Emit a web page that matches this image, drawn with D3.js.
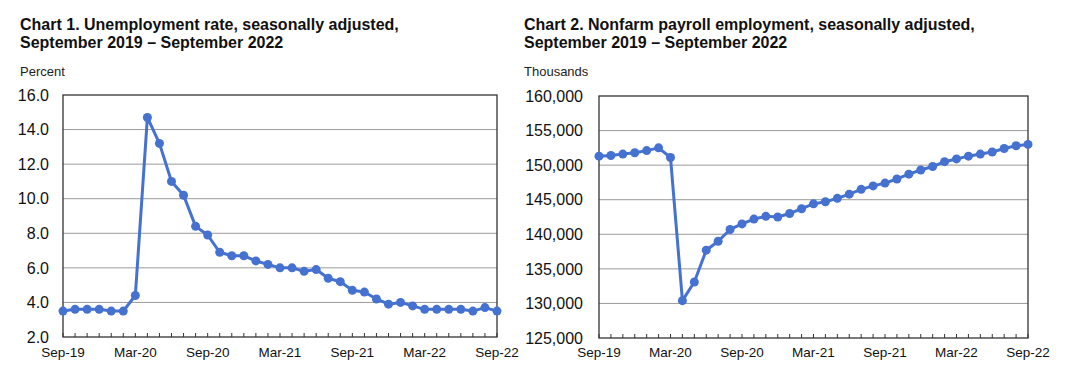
<!DOCTYPE html>
<html>
<head>
<meta charset="utf-8">
<script src="https://cdn.jsdelivr.net/npm/d3@7"></script>
<style>
  body { margin: 0; background: #fff; }
  svg { display: block; font-family: "Liberation Sans", Arial, sans-serif; }
</style>
</head>
<body>
<svg id="chart" width="1080" height="371"></svg>
<script>
// monthly values, Sep-19 .. Sep-22
var months = ["Sep-19","Oct-19","Nov-19","Dec-19","Jan-20","Feb-20","Mar-20","Apr-20","May-20","Jun-20","Jul-20","Aug-20",
  "Sep-20","Oct-20","Nov-20","Dec-20","Jan-21","Feb-21","Mar-21","Apr-21","May-21","Jun-21","Jul-21","Aug-21",
  "Sep-21","Oct-21","Nov-21","Dec-21","Jan-22","Feb-22","Mar-22","Apr-22","May-22","Jun-22","Jul-22","Aug-22","Sep-22"];

var unemployment = [3.5,3.6,3.6,3.6,3.5,3.5,4.4,14.7,13.2,11.0,10.2,8.4,
  7.9,6.9,6.7,6.7,6.4,6.2,6.0,6.0,5.8,5.9,5.4,5.2,
  4.7,4.6,4.2,3.9,4.0,3.8,3.6,3.6,3.6,3.6,3.5,3.7,3.5];

var payroll = [151300,151400,151600,151800,152100,152500,151100,130400,133100,137700,139000,140700,
  141500,142200,142600,142500,143000,143700,144400,144700,145200,145800,146500,147000,
  147400,148000,148700,149300,149800,150500,150900,151300,151600,151900,152400,152800,153000];

var xTickLabels = ["Sep-19","Mar-20","Sep-20","Mar-21","Sep-21","Mar-22","Sep-22"];

var unempTicks = [2,4,6,8,10,12,14,16];
var payrollTicks = [125000,130000,135000,140000,145000,150000,155000,160000];

var lineColor = "#4571d0";
var svg = d3.select("#chart");

function drawChart(opt) {
  var g = svg.append("g");

  g.append("text")
    .attr("x", opt.titleX).attr("y", 30)
    .attr("font-size", 16).attr("font-weight", "bold").attr("fill", "#111")
    .text(opt.title1);
  g.append("text")
    .attr("x", opt.titleX).attr("y", 47.5)
    .attr("font-size", 16).attr("font-weight", "bold").attr("fill", "#111")
    .text(opt.title2);
  g.append("text")
    .attr("x", opt.titleX).attr("y", 76)
    .attr("font-size", 13).attr("fill", "#222")
    .text(opt.unit);

  var x = d3.scaleLinear().domain([0, months.length - 1]).range([opt.left, opt.right]);
  var y = d3.scaleLinear().domain(opt.domain).range([opt.bottom, opt.top]);

  // gridlines
  g.selectAll(".grid")
    .data(opt.ticks.slice(1, -1))
    .enter().append("line")
    .attr("x1", opt.left).attr("x2", opt.right)
    .attr("y1", function(d) { return y(d); })
    .attr("y2", function(d) { return y(d); })
    .attr("stroke", "#9a9a9a").attr("stroke-width", 1);

  // y labels
  g.selectAll(".ylab")
    .data(opt.ticks)
    .enter().append("text")
    .attr("x", opt.left - opt.labelGap)
    .attr("y", function(d) { return y(d); })
    .attr("dy", "0.36em")
    .attr("text-anchor", "end")
    .attr("font-size", 16).attr("fill", "#111")
    .text(opt.fmt);

  // month ticks, inward
  g.selectAll(".mtick")
    .data(months)
    .enter().append("line")
    .attr("x1", function(d, i) { return x(i); })
    .attr("x2", function(d, i) { return x(i); })
    .attr("y1", opt.bottom).attr("y2", opt.bottom - 4)
    .attr("stroke", "#333").attr("stroke-width", 1);

  g.selectAll(".xlab")
    .data(xTickLabels)
    .enter().append("text")
    .attr("x", function(d) { return x(months.indexOf(d)); })
    .attr("y", 357)
    .attr("text-anchor", "middle")
    .attr("font-size", 13.5).attr("fill", "#111")
    .text(function(d) { return d; });

  // frame
  g.append("rect")
    .attr("x", opt.left).attr("y", opt.top)
    .attr("width", opt.right - opt.left).attr("height", opt.bottom - opt.top)
    .attr("fill", "none").attr("stroke", "#333").attr("stroke-width", 1.3);

  var line = d3.line()
    .x(function(d, i) { return x(i); })
    .y(function(d) { return y(d); });

  g.append("path")
    .datum(opt.values)
    .attr("d", line)
    .attr("fill", "none")
    .attr("stroke", lineColor).attr("stroke-width", 3)
    .attr("stroke-linejoin", "round");

  g.selectAll(".pt")
    .data(opt.values)
    .enter().append("circle")
    .attr("cx", function(d, i) { return x(i); })
    .attr("cy", function(d) { return y(d); })
    .attr("r", 4.5)
    .attr("fill", lineColor);
}

drawChart({
  title1: "Chart 1. Unemployment rate, seasonally adjusted,",
  title2: "September 2019 \u2013 September 2022",
  unit: "Percent",
  titleX: 20,
  left: 63, right: 497, top: 95, bottom: 337,
  domain: [2, 16], ticks: unempTicks,
  labelGap: 14,
  fmt: d3.format(".1f"),
  values: unemployment
});

drawChart({
  title1: "Chart 2. Nonfarm payroll employment, seasonally adjusted,",
  title2: "September 2019 \u2013 September 2022",
  unit: "Thousands",
  titleX: 524,
  left: 599, right: 1028, top: 96, bottom: 338,
  domain: [125000, 160000], ticks: payrollTicks,
  labelGap: 16,
  fmt: d3.format(","),
  values: payroll
});
</script>
</body>
</html>
